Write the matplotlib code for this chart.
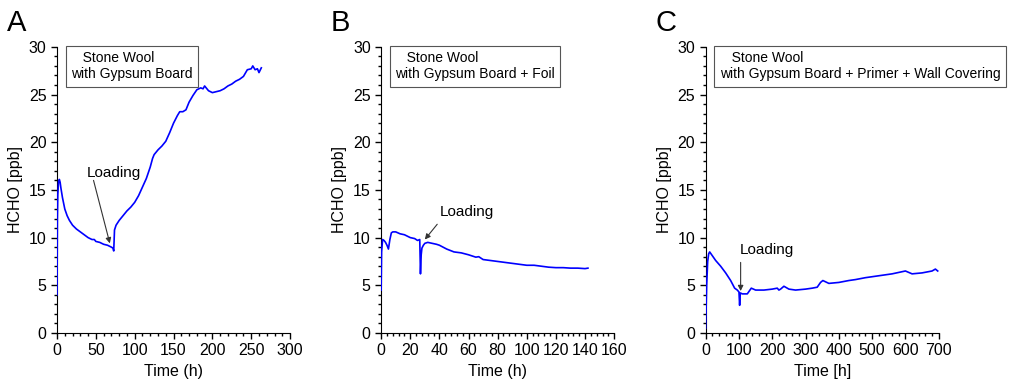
import numpy as np
import matplotlib
matplotlib.use("Agg")
import matplotlib.pyplot as plt
from matplotlib.ticker import MultipleLocator

plt.rcParams['font.family'] = ['Liberation Sans', 'DejaVu Sans']

# panel A: stone wool with gypsum board
t_a = [0, 0.5, 1, 2, 3, 4, 5, 7, 10, 13, 16, 20, 25, 30, 35, 40, 45, 48, 50, 55, 60, 65, 70, 72,
       73, 74, 76, 80, 85, 90, 95, 100, 105, 110, 115, 120, 123, 125, 130, 135, 140, 145, 150,
       155, 158, 162, 166, 170, 175, 180, 185, 188, 190, 195, 200, 205, 210, 215, 220, 225, 230,
       235, 240, 245, 250, 252, 255, 258, 260, 263]
y_a = [4.0, 12, 14.5, 15.9, 16.1, 15.8, 15.2, 14.2, 13.0, 12.3, 11.8, 11.3, 10.9, 10.6, 10.3, 10.0, 9.8, 9.8, 9.6, 9.5, 9.3, 9.2, 9.0, 8.9,
       8.6, 10.8, 11.3, 11.8, 12.3, 12.8, 13.2, 13.7, 14.4, 15.3, 16.2, 17.4, 18.3, 18.7, 19.2, 19.6, 20.1, 21.0, 22.0,
       22.8, 23.2, 23.2, 23.4, 24.2, 24.9, 25.5, 25.7, 25.6, 25.9, 25.4, 25.2, 25.3, 25.4, 25.6, 25.9, 26.1, 26.4,
       26.6, 26.9, 27.6, 27.7, 28.0, 27.6, 27.7, 27.3, 27.8]

# panel B: + foil
t_b = [0, 0.3, 1, 2, 3, 4, 5, 6, 7, 8, 10, 13, 16, 20, 23, 25, 26.5, 27, 27.5, 28, 29, 30, 32, 35, 38, 40,
       45, 50, 55, 60, 65, 67, 70, 75, 80, 85, 90, 95, 100, 105, 110, 115, 120, 125, 130, 135, 140, 142]
y_b = [4.5, 8.5, 9.8, 9.7, 9.5, 9.2, 8.8, 9.8, 10.5, 10.6, 10.6, 10.4, 10.3, 10.0, 9.9, 9.7, 9.8, 6.2, 8.2, 8.9, 9.2, 9.4, 9.5, 9.4, 9.3, 9.2,
       8.8, 8.5, 8.4, 8.2, 7.95, 8.0, 7.7, 7.6, 7.5, 7.4, 7.3, 7.2, 7.1, 7.1, 7.0, 6.9, 6.85, 6.85, 6.8, 6.8, 6.75, 6.8]

# panel C: + primer + wall covering
t_c = [0, 3, 6, 9, 12, 20, 30, 45, 60, 75, 87, 95, 100, 102, 104, 110, 125, 137, 150, 175, 200, 215, 220, 225,
       235, 250, 270, 300, 320, 335, 345, 352, 370, 400, 430, 450, 480, 500, 520, 560, 600, 620, 650, 680, 690, 697]
y_c = [0.5, 5.0, 7.5, 8.3, 8.5, 8.1, 7.6, 7.0, 6.3, 5.5, 4.7, 4.5, 4.3, 2.9, 4.2, 4.1, 4.1, 4.7, 4.5, 4.5, 4.6, 4.7, 4.5, 4.6,
       4.9, 4.6, 4.5, 4.6, 4.7, 4.8, 5.3, 5.5, 5.2, 5.3, 5.5, 5.6, 5.8, 5.9, 6.0, 6.2, 6.5, 6.2, 6.3, 6.5, 6.7, 6.5]

panels = [
    ("A", t_a, y_a, 300, 50, 10, "Time (h)", "   Stone Wool\nwith Gypsum Board",
     (38, 16.8), (47, 16.0), (68, 9.4)),
    ("B", t_b, y_b, 160, 20, 4, "Time (h)", "   Stone Wool\nwith Gypsum Board + Foil",
     (40, 12.7), (38.5, 11.4), (30, 9.8)),
    ("C", t_c, y_c, 700, 100, 20, "Time [h]", "   Stone Wool\nwith Gypsum Board + Primer + Wall Covering",
     (102, 8.7), (105, 7.4), (105, 4.4)),
]

fig = plt.figure(figsize=(10.11, 3.79), dpi=100)
lefts = [0.0564, 0.377, 0.698]

for left, (letter, t, y, xmax, xmaj, xmin, xlab, box, txt, a0, a1) in zip(lefts, panels):
    ax = fig.add_axes([left, 0.1214, 0.2305, 0.755])
    ax.plot(t, y, color='#0000ff', lw=1.2, zorder=5)
    ax.set_xlim(0, xmax)
    ax.set_ylim(0, 30)
    ax.xaxis.set_major_locator(MultipleLocator(xmaj))
    ax.xaxis.set_minor_locator(MultipleLocator(xmin))
    ax.yaxis.set_major_locator(MultipleLocator(5))
    ax.yaxis.set_minor_locator(MultipleLocator(1))
    ax.spines['top'].set_visible(False)
    ax.spines['right'].set_visible(False)
    ax.tick_params(which='major', direction='out', length=4, width=1, labelsize=11.5)
    ax.tick_params(which='minor', direction='out', length=2, width=1)
    ax.set_xlabel(xlab, fontsize=11.5)
    ax.set_ylabel("HCHO [ppb]", fontsize=11.5)
    ax.text(0.06, 0.985, box, transform=ax.transAxes, fontsize=10, va='top', ha='left',
            linespacing=1.2,
            bbox=dict(boxstyle='square,pad=0.38', fc='white', ec='#555555', lw=0.8))
    ax.text(txt[0], txt[1], "Loading", fontsize=11, va='center', ha='left')
    ax.annotate("", xy=a1, xytext=a0,
                arrowprops=dict(arrowstyle='-|>', color='#333333', lw=0.8,
                                mutation_scale=8, shrinkA=0, shrinkB=0))
    fig.text(left - 0.05, 0.975, letter, fontsize=21, va='top', ha='left')

fig.savefig("out.png", dpi=100)
